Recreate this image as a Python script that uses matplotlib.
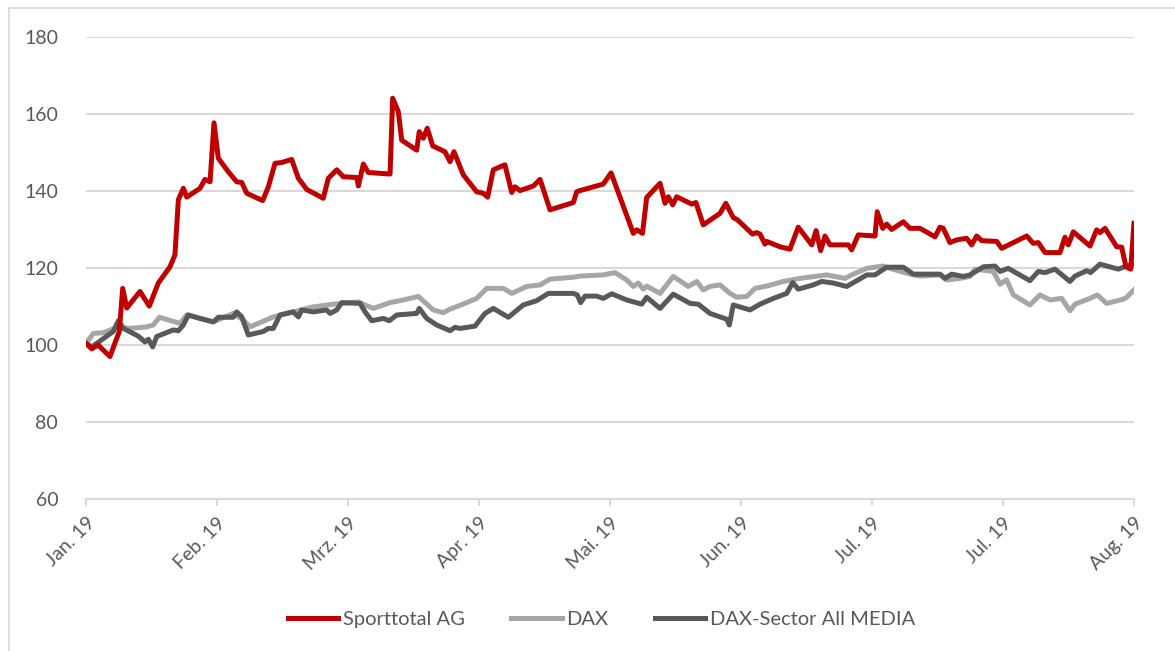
import matplotlib.pyplot as plt
import numpy as np

plt.rcParams['font.family'] = ['Lato', 'DejaVu Sans']

# x in months since Jan. 19 (tick units)
tick_labels = ["Jan. 19", "Feb. 19", "Mrz. 19", "Apr. 19", "Mai. 19",
               "Jun. 19", "Jul. 19", "Jul. 19", "Aug. 19"]

sport_x = [0.0, 0.044, 0.092, 0.183, 0.254, 0.280, 0.311, 0.412, 0.483, 0.552,
           0.641, 0.679, 0.705, 0.743, 0.769, 0.870, 0.908, 0.947, 0.977, 1.010,
           1.086, 1.150, 1.189, 1.227, 1.349, 1.392, 1.443, 1.494, 1.570, 1.621,
           1.685, 1.811, 1.850, 1.914, 1.964, 2.066, 2.079, 2.117, 2.155, 2.321,
           2.341, 2.384, 2.410, 2.524, 2.544, 2.575, 2.605, 2.647, 2.740, 2.779,
           2.809, 2.880, 2.982, 3.033, 3.066, 3.109, 3.198, 3.250, 3.275, 3.313,
           3.415, 3.466, 3.542, 3.720, 3.746, 3.771, 3.949, 4.008, 4.178, 4.204,
           4.248, 4.280, 4.382, 4.420, 4.445, 4.479, 4.509, 4.624, 4.656, 4.712,
           4.840, 4.884, 4.941, 4.973, 5.088, 5.120, 5.145, 5.183, 5.196, 5.298,
           5.374, 5.437, 5.540, 5.573, 5.608, 5.641, 5.679, 5.819, 5.845, 5.895,
           6.023, 6.040, 6.082, 6.112, 6.150, 6.239, 6.290, 6.366, 6.481, 6.519,
           6.544, 6.595, 6.647, 6.723, 6.761, 6.799, 6.837, 6.952, 6.990, 7.079,
           7.181, 7.231, 7.269, 7.321, 7.435, 7.473, 7.498, 7.537, 7.664, 7.715,
           7.740, 7.779, 7.868, 7.906, 7.939, 7.975, 8.0]
sport_y = [100.4, 99.0, 100.0, 97.0, 103.5, 114.7, 109.6, 113.9, 110.1, 116.1,
           120.3, 123.4, 137.7, 140.7, 138.4, 140.7, 143.0, 142.4, 157.7, 148.5,
           145.0, 142.4, 142.2, 139.4, 137.5, 141.1, 147.2, 147.4, 148.2, 143.3,
           140.4, 138.1, 143.3, 145.5, 143.7, 143.5, 141.3, 147.0, 144.8, 144.4,
           164.1, 160.6, 153.2, 150.6, 155.4, 153.7, 156.3, 151.7, 150.2, 147.6,
           150.2, 144.2, 139.8, 139.4, 138.4, 145.5, 146.8, 139.6, 141.1, 140.1,
           141.3, 143.0, 135.1, 137.0, 139.8, 140.1, 141.8, 144.7, 129.0, 129.9,
           129.0, 138.3, 142.0, 136.8, 138.5, 136.4, 138.5, 136.6, 137.0, 131.2,
           134.2, 136.8, 133.1, 132.5, 128.8, 129.2, 128.8, 126.2, 126.9, 125.5,
           124.9, 130.6, 126.0, 129.7, 124.5, 128.3, 126.0, 126.0, 124.7, 128.6,
           128.3, 134.6, 130.3, 131.4, 130.0, 132.0, 130.3, 130.3, 128.1, 130.6,
           130.3, 126.6, 127.3, 127.7, 126.0, 128.3, 127.1, 126.9, 125.1, 126.6,
           128.3, 126.4, 126.6, 124.0, 124.0, 128.0, 126.0, 129.4, 125.7, 129.9,
           129.2, 130.3, 125.5, 125.4, 120.3, 119.7, 131.6]

dax_x = [0.0, 0.056, 0.132, 0.247, 0.336, 0.463, 0.514, 0.560, 0.718, 0.769,
         0.972, 1.124, 1.201, 1.252, 1.328, 1.430, 1.582, 1.735, 1.888, 2.079,
         2.117, 2.193, 2.321, 2.422, 2.537, 2.651, 2.727, 2.779, 2.906, 2.982,
         3.059, 3.186, 3.250, 3.364, 3.466, 3.542, 3.720, 3.771, 3.949, 4.038,
         4.127, 4.178, 4.216, 4.254, 4.280, 4.382, 4.483, 4.598, 4.662, 4.712,
         4.763, 4.840, 4.916, 4.967, 5.044, 5.107, 5.196, 5.323, 5.450, 5.565,
         5.654, 5.794, 5.857, 5.960, 6.086, 6.137, 6.290, 6.366, 6.519, 6.570,
         6.672, 6.748, 6.786, 6.926, 6.977, 7.028, 7.079, 7.206, 7.282, 7.359,
         7.448, 7.511, 7.550, 7.664, 7.720, 7.792, 7.919, 7.944, 8.0]
dax_y = [100.4, 103.0, 103.2, 104.7, 104.3, 104.7, 105.2, 107.2, 105.6, 107.8,
         106.0, 108.2, 106.5, 104.7, 105.8, 107.3, 108.6, 109.9, 110.6, 111.2,
         110.6, 109.5, 111.0, 111.7, 112.6, 109.1, 108.4, 109.3, 111.0, 112.1,
         114.7, 114.7, 113.4, 115.2, 115.6, 117.1, 117.6, 117.9, 118.2, 118.8,
         116.9, 115.2, 116.1, 114.5, 115.3, 113.4, 117.8, 115.2, 116.5, 114.3,
         115.2, 115.6, 113.4, 112.4, 112.6, 114.7, 115.3, 116.5, 117.3, 117.8,
         118.2, 117.3, 118.4, 119.9, 120.5, 119.9, 118.4, 117.9, 118.2, 116.9,
         117.3, 117.8, 119.7, 119.1, 115.8, 116.9, 113.0, 110.4, 113.0, 111.7,
         112.1, 108.9, 110.6, 112.1, 113.0, 110.8, 111.9, 112.4, 114.3]

media_x = [0.0, 0.044, 0.208, 0.247, 0.285, 0.399, 0.450, 0.476, 0.509, 0.540,
           0.666, 0.705, 0.743, 0.781, 0.870, 0.972, 1.010, 1.124, 1.150, 1.189,
           1.239, 1.353, 1.392, 1.430, 1.481, 1.582, 1.621, 1.647, 1.735, 1.837,
           1.863, 1.914, 1.952, 2.092, 2.130, 2.181, 2.270, 2.315, 2.372, 2.524,
           2.544, 2.601, 2.677, 2.779, 2.817, 2.855, 2.969, 3.046, 3.109, 3.224,
           3.338, 3.440, 3.529, 3.720, 3.750, 3.776, 3.809, 3.898, 3.949, 4.013,
           4.127, 4.242, 4.280, 4.382, 4.483, 4.611, 4.674, 4.763, 4.891, 4.911,
           4.941, 5.069, 5.145, 5.247, 5.349, 5.395, 5.437, 5.552, 5.616, 5.704,
           5.807, 5.960, 6.023, 6.112, 6.239, 6.315, 6.519, 6.557, 6.608, 6.697,
           6.748, 6.850, 6.939, 6.977, 7.040, 7.206, 7.269, 7.321, 7.397, 7.511,
           7.550, 7.639, 7.669, 7.740, 7.880, 7.944, 8.0]
media_y = [100.4, 99.5, 103.5, 106.3, 104.3, 102.3, 100.8, 101.5, 99.5, 102.2,
           103.9, 103.7, 105.2, 107.8, 106.9, 106.0, 107.2, 107.2, 108.6, 107.3,
           102.6, 103.5, 104.3, 104.3, 107.8, 108.6, 107.3, 109.1, 108.6, 109.1,
           108.2, 109.1, 111.0, 110.8, 108.6, 106.3, 106.9, 106.3, 107.8, 108.2,
           109.5, 106.9, 105.2, 103.7, 104.6, 104.3, 104.9, 108.2, 109.5, 107.2,
           110.4, 111.5, 113.4, 113.4, 113.0, 111.0, 112.7, 112.7, 112.1, 113.3,
           111.7, 110.6, 112.4, 109.5, 113.2, 110.8, 110.6, 108.2, 106.7, 105.2,
           110.4, 109.1, 110.6, 112.1, 113.4, 116.2, 114.5, 115.6, 116.5, 116.1,
           115.2, 118.2, 118.2, 120.2, 120.2, 118.4, 118.4, 117.3, 118.4, 117.8,
           118.2, 120.3, 120.5, 119.1, 119.9, 116.7, 119.1, 118.8, 119.7, 116.5,
           117.9, 119.3, 118.8, 121.0, 119.7, 120.5, 121.0]

text_color = "#595959"

fig = plt.figure(figsize=(11.75, 6.51), dpi=100)
ax = fig.add_axes([0.0732, 0.2335, 0.8919, 0.7097])

# thin frame lines of the chart area (top and left visible)
fig.add_artist(plt.Line2D([0.0077, 1.0], [0.9877, 0.9877], color="#d9d9d9", lw=1.2))
fig.add_artist(plt.Line2D([0.0077, 0.0077], [0.0, 0.9877], color="#d9d9d9", lw=1.2))

ax.plot(sport_x, sport_y, color="#c00000", lw=3.6, label="Sporttotal AG", zorder=3)
ax.plot(dax_x, dax_y, color="#a6a6a6", lw=3.6, label="DAX", zorder=2)
ax.plot(media_x, media_y, color="#595959", lw=3.6, label="DAX-Sector All MEDIA", zorder=2.5)

ax.set_xlim(0, 8)
ax.set_ylim(60, 180)
ax.set_yticks(np.arange(60, 181, 20))
ax.set_xticks(np.arange(len(tick_labels)))
ax.set_xticklabels(tick_labels, rotation=45, ha="right", rotation_mode="anchor")

ax.grid(axis="y", color="#d9d9d9", lw=1.5)
ax.set_axisbelow(True)
for s in ["top", "right", "left"]:
    ax.spines[s].set_visible(False)
ax.spines["bottom"].set_color("#d9d9d9")
ax.spines["bottom"].set_linewidth(1.5)
ax.tick_params(axis="y", length=0, pad=20, labelsize=14, labelcolor=text_color)
ax.tick_params(axis="x", length=5, width=1.5, color="#d9d9d9", pad=6,
               labelsize=14, labelcolor=text_color)

leg = fig.legend(loc="center", bbox_to_anchor=(0.512, 0.049), ncol=3, frameon=False,
                 fontsize=14.5, handlelength=2.5, handletextpad=0.25, columnspacing=2.3)
for t in leg.get_texts():
    t.set_color(text_color)

plt.savefig("out.png", dpi=100)
